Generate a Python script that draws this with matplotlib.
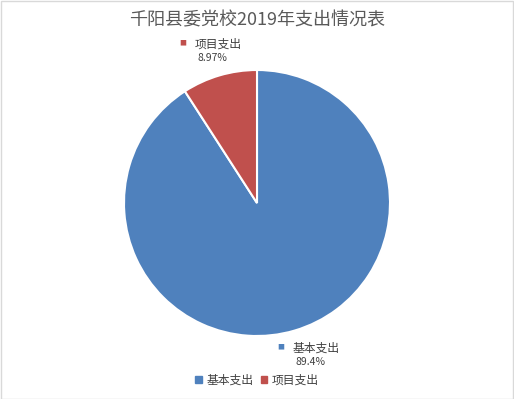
import numpy as np
import matplotlib
matplotlib.use("Agg")
import matplotlib.pyplot as plt
from matplotlib.patches import Rectangle

plt.rcParams['font.family'] = ['Noto Sans CJK SC', 'DejaVu Sans']

title = "千阳县委党校2019年支出情况表"
categories = ["基本支出", "项目支出"]
values = [89.4, 8.97]
value_labels = ["89.4%", "8.97%"]
colors = ["#4F81BD", "#C0504D"]

W, H = 514, 399
fig = plt.figure(figsize=(W / 100, H / 100), dpi=100)

# pie axes: centre (257, 203) px, radius 133 px
cx, cy, r = 257, 203, 133
ax = fig.add_axes([(cx - r) / W, (H - cy - r) / H, 2 * r / W, 2 * r / H])
wedges, _ = ax.pie(values, colors=colors, startangle=90, counterclock=False,
                   radius=1.0, wedgeprops=dict(edgecolor="white", linewidth=1.5))
ax.set_xlim(-1, 1)
ax.set_ylim(-1, 1)
ax.set_aspect("equal")
ax.axis("off")

# small horizontal nudge (points) for each data label
nudge = [6, 0]
for w, name, lab, col, dx in zip(wedges, categories, value_labels, colors, nudge):
    ang = np.deg2rad((w.theta1 + w.theta2) / 2)
    x, y = 1.19 * np.cos(ang), 1.19 * np.sin(ang)
    ax.annotate(name, (x, y), xytext=(dx + 4, 5), textcoords="offset points",
                ha="center", va="center", fontsize=8.5, color="#404040",
                annotation_clip=False)
    ax.annotate("■", (x, y), xytext=(dx - 21, 5.5), textcoords="offset points",
                ha="center", va="center", fontsize=5, color=col,
                annotation_clip=False)
    ax.annotate(lab, (x, y), xytext=(dx, -5), textcoords="offset points",
                ha="center", va="center", fontsize=7.5, color="#404040",
                annotation_clip=False)

fig.text(0.5, 1 - 20 / H, title, ha="center", va="center",
         fontsize=13, color="#595959")

handles = [Rectangle((0, 0), 1, 1, color=c) for c in colors]
fig.legend(handles, categories, loc="center", bbox_to_anchor=(0.5, 1 - 380 / H),
           ncol=2, frameon=False, fontsize=8.5, handlelength=0.55, handleheight=0.55,
           handletextpad=0.4, columnspacing=0.6, labelcolor="#404040")

fig.patches.append(Rectangle((0.5 / W, 0.5 / H), 1 - 1.5 / W, 1 - 1.5 / H,
                             transform=fig.transFigure, fill=False,
                             edgecolor="#D9D9D9", linewidth=1))

fig.savefig("out.png", dpi=100)
